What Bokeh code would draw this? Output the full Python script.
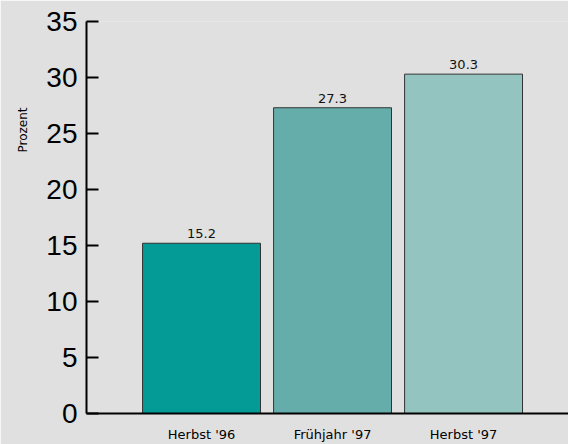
from bokeh.plotting import figure
from bokeh.models import ColumnDataSource, Range1d, FixedTicker, Title
from bokeh.core.properties import value
from bokeh.embed import file_html
from bokeh.resources import INLINE

categories = ["Herbst '96", "Frühjahr '97", "Herbst '97"]
values = [15.2, 27.3, 30.3]
colors = ["#049b97", "#64adab", "#93c4c0"]
y_ticks = [0, 5, 10, 15, 20, 25, 30, 35]

positions = list(range(len(categories)))
source = ColumnDataSource(dict(
    x=positions,
    top=values,
    color=colors,
    label=[f"{v:.1f}" for v in values],
))

p = figure(width=568, height=444, output_backend="svg", toolbar_location=None,
           x_range=Range1d(-0.878, 2.801), y_range=Range1d(0, 35),
           min_border_left=86, min_border_right=0, min_border_top=21, min_border_bottom=30)
p.background_fill_color = "#e0e0e0"
p.border_fill_color = "#e0e0e0"
p.outline_line_color = None
p.xgrid.visible = False
p.ygrid.visible = False

p.vbar(x="x", top="top", width=0.9, bottom=0, source=source,
       fill_color="color", line_color="#333333", line_width=1)

p.text(x="x", y="top", text="label", source=source,
       text_align="center", text_baseline="bottom", y_offset=-5,
       text_font=value("DejaVu Sans"), text_font_size="13px", text_color="#111111")

# y axis
ya = p.yaxis[0]
ya.ticker = FixedTicker(ticks=y_ticks)
ya.major_tick_in = 12
ya.major_tick_out = 0
ya.minor_tick_in = 0
ya.minor_tick_out = 0
ya.major_tick_line_width = 2
ya.axis_line_width = 2
ya.axis_line_color = "black"
ya.major_tick_line_color = "black"
ya.major_label_text_font = "Liberation Sans"
ya.major_label_text_font_size = "28px"
ya.major_label_text_color = "black"
ya.major_label_standoff = 9

# x axis
xa = p.xaxis[0]
xa.ticker = FixedTicker(ticks=positions)
xa.major_label_overrides = {i: c for i, c in zip(positions, categories)}
xa.major_tick_in = 0
xa.major_tick_out = 0
xa.minor_tick_in = 0
xa.minor_tick_out = 0
xa.axis_line_width = 2
xa.axis_line_color = "black"
xa.major_label_text_font = "DejaVu Sans"
xa.major_label_text_font_size = "13px"
xa.major_label_text_color = "black"
xa.major_label_standoff = 13

ytitle = Title(text="Prozent", align="right", offset=86, standoff=27,
               text_font="DejaVu Sans", text_font_size="12px",
               text_font_style="normal", text_color="black")
p.add_layout(ytitle, "left")

open("out.html", "w").write(file_html(p, INLINE))
